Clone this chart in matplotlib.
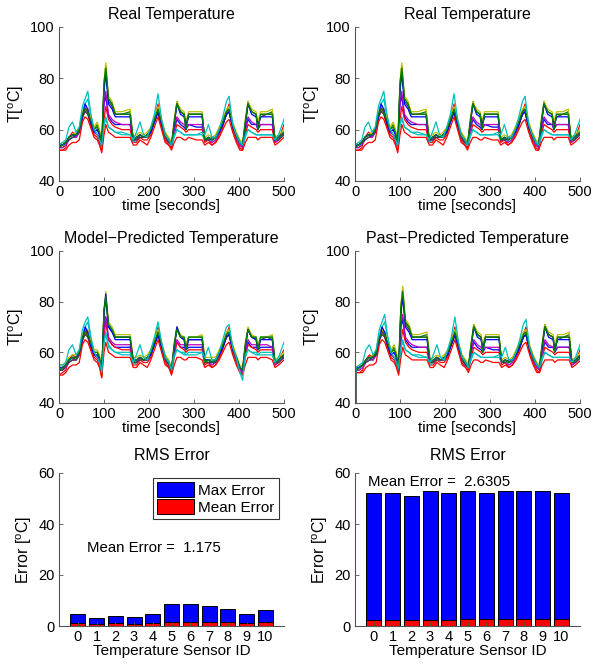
import numpy as np
import matplotlib
matplotlib.use('Agg')
import matplotlib.pyplot as plt
from matplotlib.patches import Patch

plt.rcParams['font.family'] = 'Liberation Sans'
plt.rcParams['mathtext.fontset'] = 'custom'
plt.rcParams['mathtext.rm'] = 'Liberation Sans'
plt.rcParams['font.size'] = 10

# sample times [s]
t = np.array([0, 8, 15, 22, 30, 38, 45, 52, 58, 64, 70, 78, 85, 90, 95, 100, 104, 110, 118, 125,
              140, 158, 165, 172, 180, 188, 196, 204, 212, 220, 228, 236, 244, 250, 256, 262,
              270, 278, 282, 288, 305, 318, 324, 332, 340, 348, 356, 364, 372, 378, 386, 394,
              402, 408, 414, 420, 428, 438, 442, 448, 462, 474, 480, 488, 494, 500])

# measured sensor temperatures, sensors 0..10
real = [
    [54,54,55,57,58,57,59,66,70,67,63,59,58,57,54,70,73,65,63,62,62,62,56,56,58,57,57,59,63,67,62,57,55,54,60,64,62,61,60,62,61,61,56,57,56,57,59,62,66,67,61,57,54,54,60,64,62,62,60,62,62,62,56,57,58,58],
    [54,54,55,57,58,58,60,66,68,67,64,60,62,59,54,78,85,72,70,66,66,67,56,57,58,57,58,60,64,68,63,58,56,54,63,71,67,66,62,66,66,66,56,57,56,57,60,63,67,68,62,58,55,54,63,71,67,66,62,66,66,67,56,57,58,59],
    [52,52,53,57,59,58,59,64,69,66,62,58,57,55,52,64,69,64,62,61,60,60,55,55,57,56,56,58,64,70,61,56,54,53,58,62,61,60,59,60,60,60,55,56,54,55,58,61,67,70,60,56,53,52,58,62,61,60,59,60,60,60,55,56,59,62],
    [53,53,54,56,57,57,59,66,70,72,66,60,58,56,53,62,64,61,60,59,59,58,55,56,58,57,57,59,63,67,62,57,55,54,57,60,59,58,58,58,58,58,56,57,55,56,59,62,66,67,61,57,54,53,57,60,59,58,58,58,58,58,55,56,58,59],
    [53,53,54,56,57,57,59,65,67,68,64,59,58,56,54,70,75,66,64,63,62,62,56,56,58,57,57,59,63,67,62,57,55,54,60,65,63,62,61,62,62,62,56,56,55,56,59,62,66,67,61,57,54,53,60,65,63,62,61,62,62,62,55,56,57,58],
    [54,55,55,57,58,59,61,67,69,68,65,61,63,60,55,79,86,73,71,67,67,68,57,58,59,58,59,61,65,69,64,59,57,55,64,71,68,67,63,67,67,67,57,58,57,58,61,64,68,69,63,59,56,55,64,71,68,67,63,67,67,68,57,58,59,60],
    [53,54,55,56,57,58,59,65,67,66,63,59,60,58,54,76,83,71,69,66,66,66,56,56,57,57,57,59,63,67,62,57,55,54,62,70,67,66,62,66,66,66,56,56,57,57,59,62,66,67,61,57,55,54,62,70,67,66,61,65,66,66,56,56,57,58],
    [54,54,55,57,58,58,60,65,70,68,63,59,60,58,54,75,82,70,68,65,65,65,56,57,58,57,58,59,63,67,62,58,56,54,62,70,66,65,61,65,65,65,56,57,56,57,59,62,66,67,61,58,55,54,62,70,66,65,61,65,65,65,56,57,58,59],
    [53,54,55,57,58,58,60,66,68,67,64,60,61,59,54,78,84,72,70,66,66,66,56,57,58,57,58,60,64,68,63,58,56,54,63,70,67,66,60,66,66,66,56,57,56,57,60,63,67,68,62,58,55,54,63,70,67,66,60,66,66,66,56,57,58,59],
    [52,52,52,54,55,55,56,63,65,64,61,57,56,54,51,58,62,59,58,57,57,57,54,54,56,55,54,57,61,65,60,55,54,52,55,57,57,56,56,57,56,56,54,55,54,55,57,60,63,64,59,55,52,52,55,57,57,57,56,57,57,57,54,55,56,57],
    [54,55,56,61,63,59,61,69,72,75,67,60,58,56,54,62,65,61,60,59,58,58,56,59,63,58,57,61,66,74,64,58,56,54,58,60,59,58,58,58,58,59,58,62,57,57,60,65,71,73,62,58,55,54,58,60,59,58,58,58,58,58,56,58,61,64],
]

# model-predicted temperatures, sensors 0..10
model = [
    [54,54,55,57,58,57,59,66,70,67,63,59,58,57,52,71,74,65,63,62,62,62,56,56,58,57,57,59,63,67,62,57,55,53,60,64,62,62,61,62,62,62,56,57,56,57,59,62,66,67,61,57,53,53,60,64,62,62,61,62,62,62,56,57,58,58],
    [54,54,55,57,58,57,60,66,68,68,64,60,60,58,52,76,82,71,69,66,66,66,57,57,58,57,58,60,64,68,63,58,56,53,63,70,66,66,62,66,66,66,57,57,57,57,60,63,67,68,62,58,54,53,63,69,66,66,62,66,66,66,56,57,58,59],
    [51,52,53,57,59,58,59,64,69,66,62,58,57,55,50,66,72,65,63,62,61,61,55,55,57,56,56,58,64,70,61,56,54,52,58,64,62,61,60,61,61,61,55,56,54,55,58,61,67,70,60,56,52,52,58,63,62,61,60,61,61,61,55,56,59,61],
    [53,53,54,56,57,57,59,66,70,72,66,60,58,56,52,65,68,63,61,60,60,60,55,56,58,57,57,59,63,67,62,57,55,53,58,61,60,60,59,60,60,60,56,57,55,56,59,62,66,67,61,57,52,51,58,61,60,60,59,60,60,60,55,56,58,59],
    [53,53,54,56,57,57,59,65,67,68,64,59,58,56,52,70,74,66,64,63,63,63,56,56,58,57,57,59,63,67,62,57,55,53,60,65,63,63,62,63,63,63,56,56,55,56,59,62,66,67,61,57,53,52,60,65,63,63,62,63,63,62,55,56,57,58],
    [55,55,56,58,59,59,61,67,69,69,65,61,61,59,53,77,84,72,70,67,67,67,58,58,59,58,59,61,65,69,64,59,57,54,64,70,67,66,63,66,66,67,58,58,58,58,61,64,68,69,63,59,55,54,64,70,67,66,63,66,66,67,57,58,59,60],
    [53,53,55,56,57,57,59,65,67,66,63,59,59,57,52,75,81,70,68,66,66,66,56,56,57,57,57,59,63,67,62,57,55,53,62,69,66,65,61,65,65,65,56,56,56,56,59,62,66,67,61,57,54,53,62,69,66,65,61,65,66,65,56,56,57,58],
    [54,54,55,57,58,58,60,65,70,68,63,59,59,57,52,76,83,70,68,65,65,65,57,57,58,57,58,59,63,67,62,58,56,53,62,70,66,65,61,65,65,65,57,57,56,57,59,62,66,67,61,58,54,53,62,69,66,65,61,65,65,65,56,57,58,59],
    [53,54,55,57,58,58,60,66,68,67,64,60,60,58,51,77,82,71,69,66,66,66,56,57,58,57,58,60,64,68,63,58,56,53,63,69,66,66,61,66,66,66,56,57,56,57,60,63,67,68,62,58,54,53,63,69,66,66,61,66,66,66,56,57,58,59],
    [51,51,52,54,55,55,56,63,65,64,61,57,56,54,50,60,64,60,59,58,58,58,54,54,56,55,54,57,61,65,60,55,54,51,55,58,58,57,57,58,58,57,54,55,54,55,57,60,63,64,59,55,52,51,55,58,58,58,57,58,58,57,54,55,56,57],
    [55,55,56,61,63,59,61,69,72,74,67,60,58,56,52,64,67,62,61,60,59,59,56,59,63,58,57,61,66,72,64,58,56,53,59,61,60,59,59,59,59,60,58,62,57,57,60,65,70,71,62,58,52,49,59,61,60,59,59,59,59,59,56,58,61,64],
]

# past-predicted: previous sample used as prediction, starts from 0
past_lag = 2
past_start = 0

sensor_ids = np.arange(11)
max_err_model = [4.6, 3.0, 3.9, 3.5, 4.9, 8.5, 8.5, 7.7, 6.6, 4.9, 6.4]
mean_err_model = [1.0, 0.7, 1.0, 0.8, 1.0, 1.6, 1.6, 1.4, 1.6, 1.3, 1.6]
max_err_past = [52, 52, 51, 53, 52, 53, 52, 53, 53, 53, 52]
mean_err_past = [2.5, 2.4, 2.3, 2.5, 2.5, 2.9, 2.9, 2.8, 2.9, 2.6, 2.6]
overall_model = '1.175'
overall_past = '2.6305'

colors = ['#0000ff', '#008000', '#ff0000', '#00bfbf', '#bf00bf', '#bfbf00',
          '#404040', '#0000ff', '#008000', '#ff0000', '#00bfbf']


def style(ax):
    ax.spines['top'].set_visible(False)
    ax.spines['right'].set_visible(False)
    for s in ['left', 'bottom']:
        ax.spines[s].set_color('#555555')
        ax.spines[s].set_linewidth(0.8)
    ax.tick_params(direction='in', length=3, width=0.6, colors='#555555',
                   labelcolor='black', labelsize=10.5, pad=3)


def temp_panel(ax, tt, data, title):
    for i, d in enumerate(data):
        ax.plot(tt, d, color=colors[i], lw=0.9)
    ax.set_xlim(0, 500)
    ax.set_ylim(40, 100)
    ax.set_xticks([0, 100, 200, 300, 400, 500])
    ax.set_yticks([40, 60, 80, 100])
    ax.set_title(title, fontsize=11.5, pad=6)
    ax.set_xlabel('time [seconds]', fontsize=11, labelpad=0)
    ax.set_ylabel(r'T[$^\mathrm{o}$C]', fontsize=11.5, labelpad=3)
    style(ax)


def err_panel(ax, mx, mn, overall, tx, ty, legend=False):
    ax.bar(sensor_ids, mx, width=0.8, color='#0000ff', edgecolor='black', lw=0.7)
    ax.bar(sensor_ids, mn, width=0.8, color='#ff0000', edgecolor='black', lw=0.7)
    ax.set_xlim(-1, 11)
    ax.set_ylim(0, 60)
    ax.set_xticks(sensor_ids)
    ax.set_yticks([0, 20, 40, 60])
    ax.set_title('RMS Error', fontsize=11.5, pad=9)
    ax.set_xlabel('Temperature Sensor ID', fontsize=11, labelpad=0)
    ax.set_ylabel(r'Error [$^\mathrm{o}$C]', fontsize=11.5, labelpad=3)
    ax.text(tx, ty, 'Mean Error =  ' + overall, fontsize=10.8, va='center')
    style(ax)
    if legend:
        h = [Patch(facecolor='#0000ff', edgecolor='black', lw=0.7),
             Patch(facecolor='#ff0000', edgecolor='black', lw=0.7)]
        leg = ax.legend(h, ['Max Error', 'Mean Error'], loc='upper right',
                        fontsize=11, frameon=True, fancybox=False,
                        handlelength=2.4, handleheight=1.1, handletextpad=0.3,
                        borderpad=0.25, labelspacing=0.1, borderaxespad=0.35)
        leg.get_frame().set_edgecolor('black')
        leg.get_frame().set_linewidth(0.8)


fig = plt.figure(figsize=(5.92, 6.66), dpi=100)
W, H = 592.0, 666.0
lefts = [59 / W, 355 / W]
aw = 225 / W
rows = [(27, 181), (251, 403), (473, 626)]
rects = [[(l, 1 - b / H, aw, (b - tp) / H) for l in lefts] for tp, b in rows]

ax1 = fig.add_axes(rects[0][0])
temp_panel(ax1, t, real, 'Real Temperature')
ax2 = fig.add_axes(rects[0][1])
temp_panel(ax2, t, real, 'Real Temperature')
ax3 = fig.add_axes(rects[1][0])
temp_panel(ax3, t, model, 'Model\u2212Predicted Temperature')
ax4 = fig.add_axes(rects[1][1])
past_t = np.concatenate(([0], t + past_lag))
past = [np.concatenate(([past_start], d)) for d in real]
temp_panel(ax4, past_t, past, 'Past\u2212Predicted Temperature')

ax5 = fig.add_axes(rects[2][0])
err_panel(ax5, max_err_model, mean_err_model, overall_model, 0.5, 30.5, legend=True)
ax6 = fig.add_axes(rects[2][1])
err_panel(ax6, max_err_past, mean_err_past, overall_past, -0.3, 56.5)

fig.savefig('out.png', dpi=100)
